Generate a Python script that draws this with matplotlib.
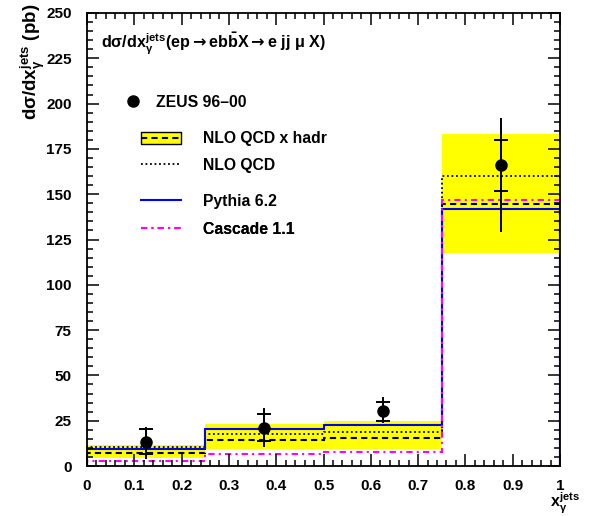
import numpy as np
import matplotlib
matplotlib.use('Agg')
import matplotlib.pyplot as plt
from matplotlib.patches import Patch
from matplotlib.lines import Line2D
from matplotlib.ticker import MultipleLocator, FuncFormatter

plt.rcParams['font.family'] = ['Liberation Sans', 'DejaVu Sans']
plt.rcParams['font.weight'] = 'bold'
plt.rcParams['mathtext.fontset'] = 'custom'
plt.rcParams['mathtext.rm'] = 'Liberation Sans:bold'
plt.rcParams['mathtext.bf'] = 'Liberation Sans:bold'
plt.rcParams['mathtext.it'] = 'Liberation Sans'
plt.rcParams['mathtext.sf'] = 'DejaVu Sans'

# bins in x_gamma^jets
edges = [0.0, 0.25, 0.5, 0.75, 1.0]

# ZEUS 96-00 data (pb)
x_data = [0.125, 0.375, 0.625, 0.875]
y_data = [13.4, 21.1, 30.4, 166.1]
stat_up = [7.0, 7.6, 4.9, 13.8]
stat_dn = [7.0, 7.1, 5.4, 14.2]
tot_up = [7.9, 10.7, 7.9, 25.8]
tot_dn = [9.7, 10.4, 6.5, 36.8]

# predictions
nlo_had = [6.9, 14.4, 15.5, 144.4]
nlo_had_lo = [4.2, 9.2, 9.2, 117.4]
nlo_had_hi = [11.4, 23.3, 24.6, 183.2]
nlo = [10.7, 17.4, 18.8, 160.2]
pythia = [9.2, 20.2, 22.9, 141.7]
cascade = [2.5, 6.6, 7.5, 146.8]

W, H = 592, 516
fig = plt.figure(figsize=(W / 100, H / 100), dpi=100)
ax = fig.add_axes([87 / W, (H - 466) / H, 473 / W, 453 / H])

ax.stairs(nlo_had_hi, edges, baseline=nlo_had_lo, fill=True, color='#ffff00', lw=0)
ax.stairs(nlo_had, edges, color='black', lw=1.5, ls=(0, (3, 2)))
ax.stairs(nlo, edges, color='black', lw=1.3, ls=(0, (1, 1.5)))
ax.stairs(pythia, edges, color='#0000ff', lw=1.5)
ax.stairs(cascade, edges, color='#ff00ff', lw=1.5, ls=(0, (3, 2, 1, 2)))

ax.errorbar(x_data, y_data, yerr=[tot_dn, tot_up], fmt='none', ecolor='black',
            elinewidth=1.4, capsize=0)
ax.errorbar(x_data, y_data, yerr=[stat_dn, stat_up], fmt='o', color='black',
            ms=8, elinewidth=1.4, capsize=4.7, capthick=1.4)

ax.set_xlim(0, 1)
ax.set_ylim(0, 250)
ax.xaxis.set_major_locator(MultipleLocator(0.1))
ax.xaxis.set_minor_locator(MultipleLocator(0.02))
ax.yaxis.set_major_locator(MultipleLocator(25))
ax.yaxis.set_minor_locator(MultipleLocator(5))
ax.xaxis.set_major_formatter(FuncFormatter(lambda v, p: '%g' % round(v, 2)))
ax.tick_params(which='both', direction='in', top=True, right=True, width=1.1)
ax.tick_params(which='major', length=8.6, labelsize=11)
ax.tick_params(axis='x', which='major', pad=9)
ax.tick_params(axis='y', which='major', pad=11)
ax.tick_params(which='minor', length=4.3)
for s in ax.spines.values():
    s.set_linewidth(1.3)

arrow = r'$\mathsf{\rightarrow}$'
title = (r'd$\sigma$/d$\mathrm{x}_{\gamma}^{\mathrm{jets}}$(ep' + arrow +
         r'eb$\bar{\mathrm{b}}$X' + arrow + r'e jj $\mu$ X)')
ax.text((100.7 - 87) / 473, (466 - 48) / 453, title,
        transform=ax.transAxes, fontsize=11.6, fontweight='bold', va='baseline', ha='left')

fig.text(33 / W, 1 - 4 / H, r'd$\sigma$/d$\mathrm{x}_{\gamma}^{\mathrm{jets}}$ (pb)',
         rotation=90, ha='center', va='top', fontsize=13.5, fontweight='bold')
fig.text(580 / W, 1 - 507 / H, r'$\mathrm{x}_{\gamma}^{\mathrm{jets}}$',
         ha='right', va='baseline', fontsize=11.5, fontweight='bold')

# legend, one entry at a time to match the spacing
prop = {'family': 'Liberation Sans', 'weight': 'bold', 'size': 11.3}
fs = 11.3 * 100 / 72


def add_key(handle, label, x_px, y_px, hlen_px, text_px):
    leg = ax.legend([handle], [label], loc='center left',
                    bbox_to_anchor=(x_px / W, 1 - y_px / H), bbox_transform=fig.transFigure,
                    frameon=False, borderpad=0, borderaxespad=0, prop=prop,
                    handlelength=hlen_px / fs, handleheight=0.85,
                    handletextpad=(text_px - x_px - hlen_px) / fs, numpoints=1)
    ax.add_artist(leg)


add_key(Line2D([], [], marker='o', ms=8, color='black', ls='none'), 'ZEUS 96–00', 125, 102.7, 16.7, 156)
add_key((Patch(facecolor='#ffff00', edgecolor='black', lw=1),
         Line2D([], [], color='black', lw=1.5, ls=(0, (3, 2)))), 'NLO QCD x hadr', 141, 139, 40, 203)
add_key(Line2D([], [], color='black', lw=1.3, ls=(0, (1, 1.5))), 'NLO QCD', 141, 165.7, 40, 203)
add_key(Line2D([], [], color='#0000ff', lw=1.5), 'Pythia 6.2', 141, 201.7, 40, 203)
add_key(Line2D([], [], color='#ff00ff', lw=1.5, ls=(0, (3, 2, 1, 2))), 'Cascade 1.1', 141, 229.3, 40, 203)

fig.savefig('out.png', dpi=100)
plt.close(fig)
